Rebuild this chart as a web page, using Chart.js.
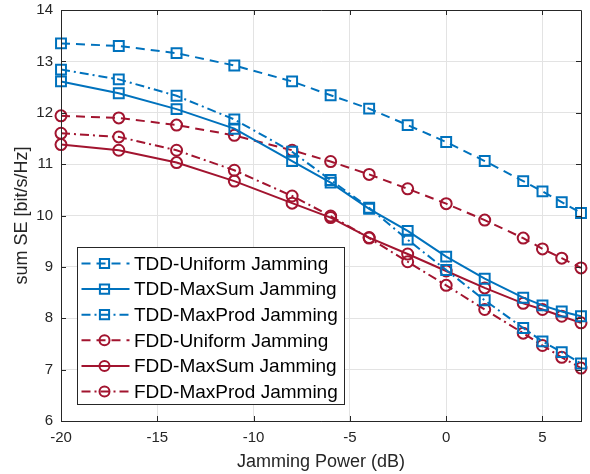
<!DOCTYPE html>
<html>
<head>
<meta charset="UTF-8" />
<title>Sum SE vs Jamming Power</title>
<script src="https://cdn.jsdelivr.net/npm/chart.js"></script>
<style>
  html, body { margin: 0; padding: 0; background: #fff; }
  #wrap { position: relative; width: 590px; height: 474px; }
</style>
</head>
<body>
<div id="wrap"><canvas id="c" width="590" height="474"></canvas></div>
<script>
  // data
  const jammingPower = [-20, -17, -14, -11, -8, -6, -4, -2, 0, 2, 4, 5, 6, 7];
  const tddUniform = [13.35, 13.30, 13.16, 12.92, 12.61, 12.34, 12.08, 11.76, 11.43, 11.06, 10.67, 10.47, 10.26, 10.05];
  const tddMaxSum = [12.61, 12.38, 12.07, 11.69, 11.06, 10.64, 10.13, 9.70, 9.20, 8.77, 8.40, 8.25, 8.13, 8.04];
  const tddMaxProd = [12.84, 12.65, 12.33, 11.87, 11.24, 10.69, 10.15, 9.53, 8.94, 8.35, 7.81, 7.55, 7.34, 7.12];
  const fddUniform = [11.94, 11.90, 11.76, 11.56, 11.27, 11.05, 10.80, 10.52, 10.23, 9.91, 9.56, 9.35, 9.17, 8.98];
  const fddMaxSum = [11.38, 11.27, 11.03, 10.67, 10.24, 9.96, 9.57, 9.25, 8.92, 8.59, 8.29, 8.17, 8.04, 7.91];
  const fddMaxProd = [11.60, 11.53, 11.27, 10.88, 10.38, 9.99, 9.56, 9.10, 8.64, 8.17, 7.71, 7.47, 7.24, 7.03];
  const xTicks = [-20, -15, -10, -5, 0, 5];
  const yTicks = [6, 7, 8, 9, 10, 11, 12, 13, 14];

  const BLUE = "#0072BD";
  const RED = "#A2142F";
  const AXIS = "#262626";
  const FONT = "'Liberation Sans', Arial, Helvetica, sans-serif";
  const DASH = [9, 6];
  const DASHDOT = [9, 4, 2, 4];

  const makeSet = (label, values, color, dash, marker) => ({
    label,
    data: jammingPower.map((x, i) => ({ x, y: values[i] })),
    borderColor: color,
    backgroundColor: "rgba(0,0,0,0)",
    borderWidth: 2,
    borderDash: dash,
    pointStyle: marker,
    pointRadius: marker === "rect" ? 7 : 5.5,
    pointBorderWidth: 2,
    pointBorderColor: color,
    pointBackgroundColor: "rgba(0,0,0,0)",
    tension: 0,
    clip: false,
  });

  const datasets = [
    makeSet("TDD-Uniform Jamming", tddUniform, BLUE, DASH, "rect"),
    makeSet("TDD-MaxSum Jamming", tddMaxSum, BLUE, [], "rect"),
    makeSet("TDD-MaxProd Jamming", tddMaxProd, BLUE, DASHDOT, "rect"),
    makeSet("FDD-Uniform Jamming", fddUniform, RED, DASH, "circle"),
    makeSet("FDD-MaxSum Jamming", fddMaxSum, RED, [], "circle"),
    makeSet("FDD-MaxProd Jamming", fddMaxProd, RED, DASHDOT, "circle"),
  ];

  // box around the axes + inward tick marks (matlab look)
  const axesBox = {
    id: "axesBox",
    afterDatasetsDraw(chart) {
      const { ctx, chartArea: a, scales } = chart;
      ctx.save();
      ctx.strokeStyle = AXIS;
      ctx.lineWidth = 1;
      ctx.beginPath();
      ctx.rect(a.left + 0.5, a.top + 0.5, a.right - a.left, a.bottom - a.top);
      ctx.stroke();
      ctx.beginPath();
      xTicks.forEach((v) => {
        const px = Math.round(scales.x.getPixelForValue(v)) + 0.5;
        ctx.moveTo(px, a.bottom);
        ctx.lineTo(px, a.bottom - 5);
        ctx.moveTo(px, a.top);
        ctx.lineTo(px, a.top + 5);
      });
      yTicks.forEach((v) => {
        const py = Math.round(scales.y.getPixelForValue(v)) + 0.5;
        ctx.moveTo(a.left, py);
        ctx.lineTo(a.left + 5, py);
        ctx.moveTo(a.right, py);
        ctx.lineTo(a.right - 5, py);
      });
      ctx.stroke();
      ctx.restore();
    },
  };

  // legend with line + marker samples, drawn inside the axes
  const lineLegend = {
    id: "lineLegend",
    afterDraw(chart) {
      const { ctx, chartArea: a } = chart;
      const x0 = a.left + 16.5;
      const y0 = a.top + 237.5;
      const w = 267;
      const h = 157;
      ctx.save();
      ctx.fillStyle = "#fff";
      ctx.fillRect(x0, y0, w, h);
      ctx.strokeStyle = AXIS;
      ctx.lineWidth = 1;
      ctx.strokeRect(x0, y0, w, h);
      ctx.font = "19px " + FONT;
      ctx.textBaseline = "middle";
      chart.data.datasets.forEach((ds, i) => {
        const cy = y0 + 16 + i * 25.6;
        ctx.strokeStyle = ds.borderColor;
        ctx.lineWidth = 2;
        ctx.setLineDash(ds.borderDash);
        ctx.beginPath();
        ctx.moveTo(x0 + 4, cy);
        ctx.lineTo(x0 + 52, cy);
        ctx.stroke();
        ctx.setLineDash([]);
        ctx.fillStyle = "rgba(0,0,0,0)";
        Chart.helpers.drawPoint(ctx, {
          pointStyle: ds.pointStyle,
          radius: ds.pointStyle === "rect" ? 6.5 : 5,
          rotation: 0,
          borderWidth: 2,
        }, x0 + 27, cy);
        ctx.fillStyle = "#000";
        ctx.fillText(ds.label, x0 + 56.5, cy + 1);
      });
      ctx.restore();
    },
  };

  new Chart(document.getElementById("c"), {
    type: "line",
    data: { datasets },
    options: {
      responsive: false,
      animation: false,
      devicePixelRatio: 1,
      layout: { padding: { top: 10, right: 7, left: 0, bottom: 0 } },
      plugins: { legend: { display: false }, tooltip: { enabled: false } },
      scales: {
        x: {
          type: "linear",
          min: -20,
          max: 7,
          afterBuildTicks: (s) => { s.ticks = xTicks.map((v) => ({ value: v })); },
          afterFit: (s) => {
            s.height = 53;
            s.paddingLeft = 0;
            s.paddingRight = 0;
          },
          grid: { color: "#e3e3e3", drawTicks: false },
          border: { color: AXIS },
          ticks: { color: AXIS, padding: 8, font: { family: FONT, size: 15 } },
          title: {
            display: true,
            text: "Jamming Power (dB)",
            color: AXIS,
            padding: { top: 0, bottom: 1 },
            font: { family: FONT, size: 18 },
          },
        },
        y: {
          min: 6,
          max: 14,
          afterBuildTicks: (s) => { s.ticks = yTicks.map((v) => ({ value: v })); },
          afterFit: (s) => {
            s.width = 61;
            s.paddingTop = 0;
            s.paddingBottom = 0;
          },
          grid: { color: "#e3e3e3", drawTicks: false },
          border: { color: AXIS },
          ticks: { color: AXIS, padding: 8, font: { family: FONT, size: 15 } },
          title: {
            display: true,
            text: "sum SE [bit/s/Hz]",
            color: AXIS,
            padding: { top: 11, bottom: 0 },
            font: { family: FONT, size: 18 },
          },
        },
      },
    },
    plugins: [axesBox, lineLegend],
  });
</script>
</body>
</html>
